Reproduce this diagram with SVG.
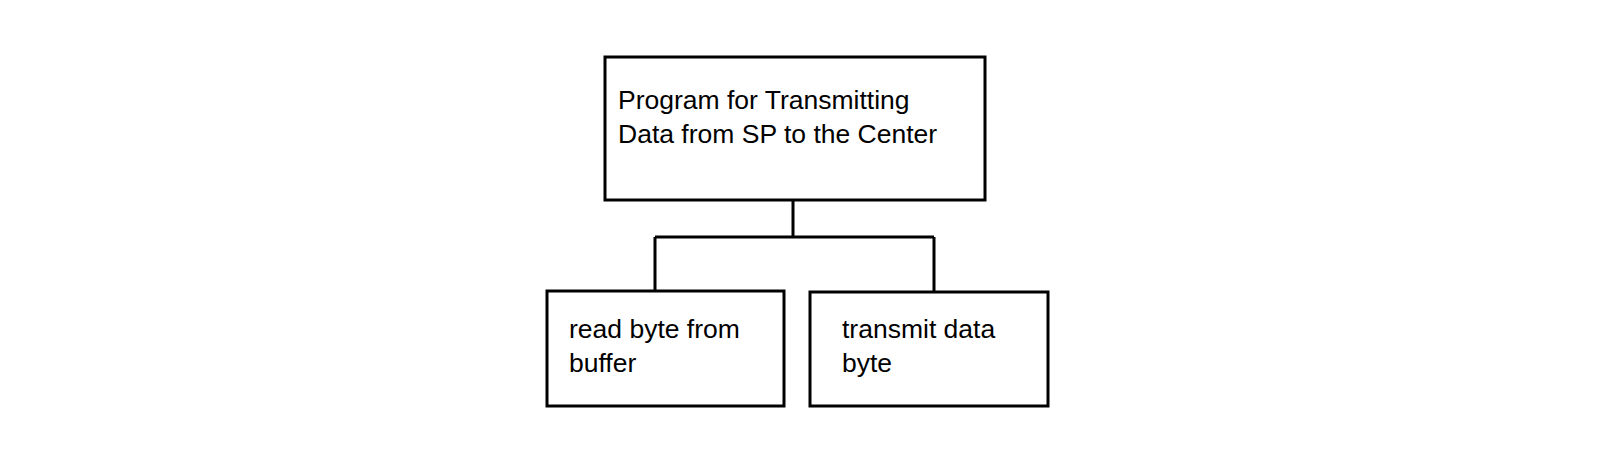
<svg xmlns="http://www.w3.org/2000/svg" width="1602" height="462" viewBox="0 0 1602 462">
<style>
rect{fill:#fff;stroke:#000;stroke-width:3}
text{font-family:"Liberation Sans",Arial,sans-serif;font-size:26.5px;fill:#000}
.c{fill:none;stroke:#000;stroke-width:3}
</style>
<rect x="0" y="0" width="1602" height="462" style="stroke:none"/>
<g id="connectors">
<path class="c" d="M793 201V237M655 237H934M655 237V290M934 237V291"/>
</g>
<g id="top"><rect x="605" y="57" width="380" height="143"/>
<text x="618" y="109">Program for Transmitting</text>
<text x="618" y="143">Data from SP to the Center</text></g>
<g id="read"><rect x="547" y="291" width="237" height="115"/>
<text x="569" y="338">read byte from</text>
<text x="569" y="372">buffer</text></g>
<g id="transmit"><rect x="810" y="292" width="238" height="114"/>
<text x="842" y="338">transmit data</text>
<text x="842" y="372">byte</text></g>
</svg>
